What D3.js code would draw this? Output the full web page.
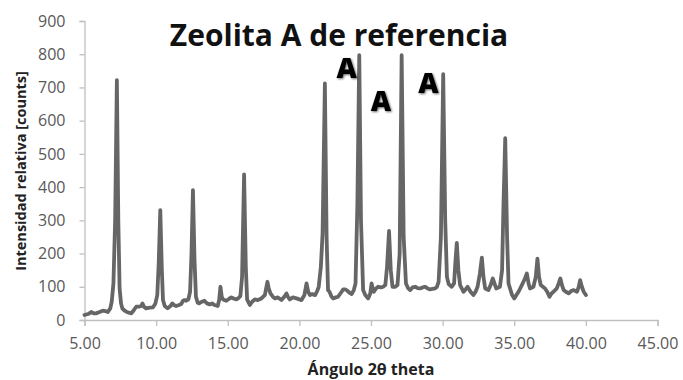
<!DOCTYPE html>
<html>
<head>
<meta charset="utf-8">
<script src="https://cdn.jsdelivr.net/npm/d3@7/dist/d3.min.js"></script>
<style>
  html, body { margin: 0; padding: 0; background: #fff; }
  svg { display: block; }
  text { font-family: "Open Sans", "DejaVu Sans", sans-serif; }
</style>
</head>
<body>
<svg id="chart" width="683" height="380"></svg>
<script>
// Diffraction pattern of the reference Zeolite A sample: 2θ angle and counts
const theta = [
  5.00, 5.25, 5.47, 5.65, 5.80, 6.05, 6.28, 6.45, 6.63, 6.80, 6.90, 7.02, 7.14, 7.26, 7.36, 7.45, 7.55, 7.64, 7.80, 7.92,
  8.10, 8.27, 8.45, 8.61, 8.80, 8.96, 9.05, 9.15, 9.30, 9.55, 9.78, 9.95, 10.08, 10.18, 10.29, 10.40, 10.48, 10.60, 10.80, 11.00,
  11.13, 11.25, 11.40, 11.60, 11.75, 11.88, 11.99, 12.10, 12.25, 12.37, 12.47, 12.57, 12.68, 12.78, 12.90, 13.00, 13.20, 13.37, 13.55, 13.74,
  13.90, 14.08, 14.30, 14.40, 14.49, 14.58, 14.67, 14.90, 15.10, 15.25, 15.45, 15.60, 15.75, 15.88, 16.00, 16.14, 16.26, 16.35, 16.54, 16.70,
  16.89, 17.10, 17.35, 17.59, 17.70, 17.77, 17.86, 17.98, 18.15, 18.30, 18.50, 18.75, 18.95, 19.10, 19.20, 19.33, 19.55, 19.80, 20.00, 20.15,
  20.35, 20.50, 20.62, 20.74, 20.90, 21.10, 21.25, 21.35, 21.50, 21.62, 21.78, 21.90, 22.00, 22.10, 22.25, 22.36, 22.55, 22.70, 22.90, 23.06,
  23.20, 23.30, 23.50, 23.65, 23.80, 23.92, 24.05, 24.18, 24.30, 24.45, 24.60, 24.80, 24.95, 25.04, 25.12, 25.20, 25.35, 25.50, 25.70, 25.85,
  26.00, 26.12, 26.26, 26.38, 26.50, 26.70, 26.85, 27.00, 27.14, 27.28, 27.44, 27.60, 27.73, 27.90, 28.08, 28.25, 28.43, 28.60, 28.78, 28.95,
  29.13, 29.30, 29.48, 29.60, 29.72, 29.88, 30.04, 30.18, 30.30, 30.42, 30.63, 30.80, 30.90, 30.99, 31.10, 31.22, 31.46, 31.60, 31.74, 31.95,
  32.15, 32.30, 32.44, 32.60, 32.74, 32.85, 32.97, 33.20, 33.35, 33.50, 33.62, 33.74, 34.00, 34.15, 34.25, 34.37, 34.50, 34.60, 34.67, 34.85,
  35.00, 35.15, 35.30, 35.53, 35.75, 35.88, 36.00, 36.10, 36.34, 36.50, 36.62, 36.73, 36.85, 37.00, 37.15, 37.30, 37.46, 37.60, 37.74, 37.97,
  38.10, 38.22, 38.33, 38.45, 38.60, 38.80, 39.00, 39.15, 39.38, 39.50, 39.60, 39.72, 39.85, 40.00
];
const counts = [
  15, 18, 24, 20, 20, 24, 28, 27, 24, 35, 55, 110, 300, 722, 300, 95, 50, 35, 28, 25,
  22, 20, 30, 40, 40, 42, 50, 40, 35, 37, 38, 50, 75, 170, 331, 150, 60, 42, 35, 42,
  50, 45, 42, 45, 48, 58, 60, 58, 62, 85, 200, 391, 180, 70, 52, 50, 55, 58, 50, 47,
  50, 45, 42, 60, 100, 70, 62, 58, 64, 68, 64, 62, 66, 72, 130, 438, 160, 62, 45, 55,
  62, 60, 65, 75, 100, 115, 95, 80, 70, 65, 68, 60, 70, 80, 70, 62, 68, 65, 62, 60,
  75, 110, 85, 75, 78, 75, 88, 100, 160, 260, 712, 250, 90, 85, 70, 65, 68, 70, 82, 92,
  92, 90, 82, 78, 90, 110, 350, 797, 300, 90, 75, 65, 80, 110, 95, 85, 95, 100, 98, 100,
  105, 160, 268, 150, 100, 100, 105, 200, 797, 250, 110, 95, 90, 98, 100, 96, 95, 98, 100, 95,
  92, 94, 95, 100, 115, 250, 740, 300, 130, 108, 100, 110, 180, 232, 150, 105, 85, 92, 100, 85,
  75, 85, 100, 140, 188, 130, 95, 90, 105, 125, 110, 95, 100, 150, 350, 547, 250, 110, 100, 75,
  65, 75, 85, 105, 125, 140, 110, 95, 100, 130, 185, 130, 105, 100, 95, 85, 70, 80, 85, 95,
  110, 125, 105, 90, 85, 80, 88, 90, 85, 100, 120, 100, 85, 75
];

// Axis ticks
const xTicks = [5, 10, 15, 20, 25, 30, 35, 40, 45];
const yTicks = [0, 100, 200, 300, 400, 500, 600, 700, 800, 900];

// Texts
const titleText = "Zeolita A de referencia";
const xTitle = "Ángulo 2θ theta";
const yTitle = "Intensidad relativa [counts]";

// Phase markers placed above the main reflections (2θ, counts)
const markerLabels = ["A", "A", "A"];
const markerTheta = [23.3, 25.7, 29.0];
const markerCounts = [728, 628, 682];

const svg = d3.select("#chart");
const x = d3.scaleLinear().domain([5, 45]).range([84.5, 657.5]);
const y = d3.scaleLinear().domain([0, 900]).range([320, 21]);

const axisColor = "#bfbfbf";
const labelColor = "#595959";

// Y axis
const yAxis = svg.append("g")
  .attr("transform", `translate(${x(5)},0)`)
  .call(d3.axisLeft(y).tickValues(yTicks).tickSize(5).tickPadding(14).tickFormat(d3.format("d")));
// X axis
const xAxis = svg.append("g")
  .attr("transform", `translate(0,${y(0)})`)
  .call(d3.axisBottom(x).tickValues(xTicks).tickSize(6).tickPadding(12).tickFormat(d3.format(".2f")));

[yAxis, xAxis].forEach(g => {
  g.select(".domain").attr("stroke", axisColor).attr("stroke-width", 1.3);
  g.selectAll(".tick line").attr("stroke", axisColor).attr("stroke-width", 1.3);
  g.selectAll(".tick text")
    .attr("fill", labelColor)
    .style("font-family", "'Open Sans', sans-serif")
    .style("font-size", "16px");
});

// Pattern line
const line = d3.line()
  .x((d, i) => x(theta[i]))
  .y((d, i) => y(counts[i]));

svg.append("path")
  .datum(counts)
  .attr("d", line)
  .attr("fill", "none")
  .attr("stroke", "#666666")
  .attr("stroke-width", 3.8)
  .attr("stroke-linejoin", "round")
  .attr("stroke-linecap", "round");

// Title
svg.append("text")
  .attr("x", 339)
  .attr("y", 46)
  .attr("text-anchor", "middle")
  .attr("font-weight", 700)
  .attr("font-size", 30)
  .attr("fill", "#111")
  .text(titleText);

// Axis titles
svg.append("text")
  .attr("x", 371)
  .attr("y", 375)
  .attr("text-anchor", "middle")
  .attr("font-weight", 700)
  .attr("font-size", 16)
  .attr("fill", "#222")
  .text(xTitle);

svg.append("text")
  .attr("transform", "translate(26,171) rotate(-90)")
  .attr("text-anchor", "middle")
  .attr("font-weight", 700)
  .attr("font-size", 14.5)
  .attr("fill", "#222")
  .text(yTitle);

// Soft shadow for the phase markers
const defs = svg.append("defs");
const f = defs.append("filter").attr("id", "soft").attr("x", "-30%").attr("y", "-30%").attr("width", "160%").attr("height", "160%");
f.append("feGaussianBlur").attr("in", "SourceAlpha").attr("stdDeviation", 1.2).attr("result", "b");
f.append("feOffset").attr("in", "b").attr("dx", 1).attr("dy", 1).attr("result", "o");
f.append("feComponentTransfer").attr("in", "o").attr("result", "s")
  .append("feFuncA").attr("type", "linear").attr("slope", 0.6);
const m = f.append("feMerge");
m.append("feMergeNode").attr("in", "s");
m.append("feMergeNode").attr("in", "SourceGraphic");

svg.append("g")
  .selectAll("text")
  .data(markerLabels)
  .join("text")
  .attr("x", (d, i) => x(markerTheta[i]))
  .attr("y", (d, i) => y(markerCounts[i]))
  .attr("text-anchor", "middle")
  .attr("font-weight", 800)
  .attr("font-size", 28)
  .attr("fill", "#000")
  .attr("filter", "url(#soft)")
  .text(d => d);
</script>
</body>
</html>
